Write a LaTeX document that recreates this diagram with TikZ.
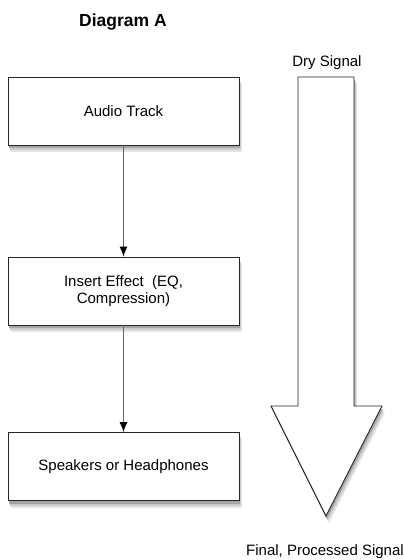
\documentclass[tikz,border=0pt]{standalone}
\usepackage{fontspec}
\setmainfont{Liberation Sans}
\usetikzlibrary{positioning,backgrounds,calc,arrows.meta}
\tikzset{>=latex}

\begin{document}
\begin{tikzpicture}[x=1pt,y=-1pt,
  stagebox/.style={draw=black!85,fill=white,line width=0.9pt,minimum width=231pt,minimum height=68pt,align=center,font=\fontsize{15}{17}\selectfont},
  flow/.style={-{Latex[length=10pt,width=8pt,black]},draw=black!60,line width=0.9pt},
  caption/.style={font=\fontsize{15}{17}\selectfont}]
\useasboundingbox (0,0) rectangle (404,560);
\node[font=\bfseries\fontsize{17.5}{20}\selectfont] (title) at (123,22) {Diagram A};
\node[stagebox] (A) at (123.5,111) {Audio Track};
\node[stagebox] (B) at (123.5,291) {Insert Effect\ \ (EQ,\\Compression)};
\node[stagebox] (C) at (123.5,466.5) {Speakers or Headphones};
\draw[flow] (A) -- (B);
\draw[flow] (B) -- (C);
% soft shadows behind the boxes and the arrow
\begin{scope}[on background layer]
\foreach \n in {A,B,C}
  \foreach \dx/\dy/\tone in {3/7/10,2/5/20,1/3/35}
    \fill[black!\tone] ($(\n.north west)+(\dx,\dy)$) rectangle ($(\n.south east)+(\dx,\dy)$);
\foreach \dx/\dy/\tone in {3/7/10,2/5/20,1/3/35}
  \fill[black!\tone] (298+\dx,77+\dy) -- (354+\dx,77+\dy) -- (354+\dx,406+\dy) -- (382+\dx,406+\dy) -- (326+\dx,516+\dy) -- (271+\dx,406+\dy) -- (298+\dx,406+\dy) -- cycle;
\end{scope}
% big signal arrow
\draw[black!85,fill=white,line width=0.9pt] (298,77) -- (354,77) -- (354,406) -- (382,406) -- (326,516) -- (271,406) -- (298,406) -- cycle;
\node[caption] (dry) at (327,63) {Dry Signal};
\node[caption] (final) at (325,552) {Final, Processed Signal};
\end{tikzpicture}
\end{document}
